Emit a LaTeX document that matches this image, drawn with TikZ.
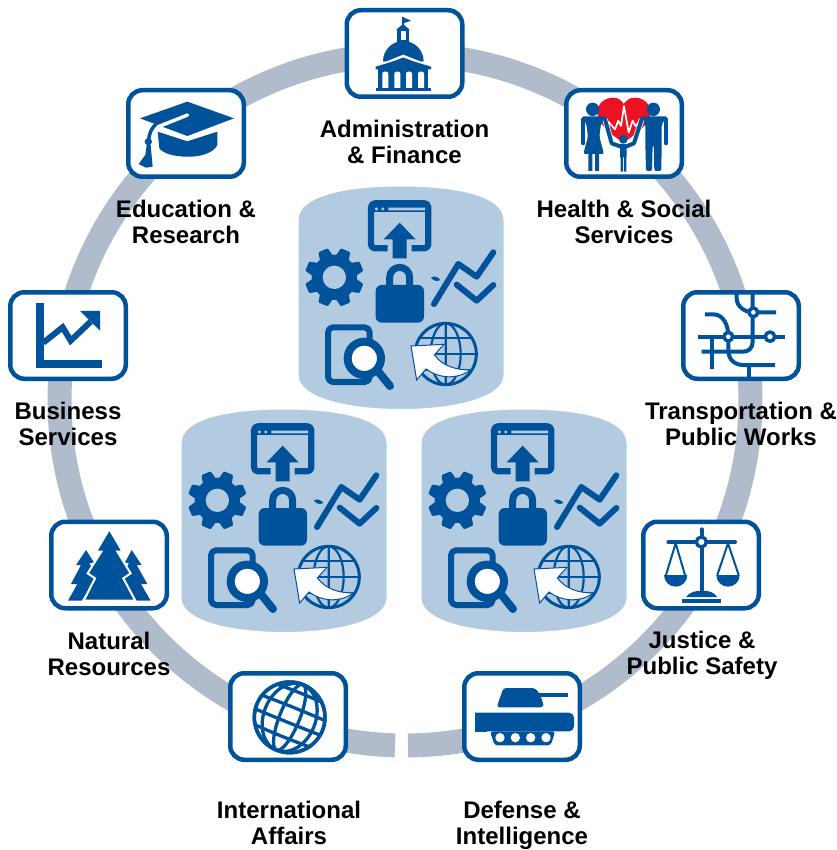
\documentclass[tikz,border=0pt]{standalone}
\usepackage{fontspec}
\setmainfont{Liberation Sans}
\definecolor{bl}{HTML}{00539B}
\definecolor{ringc}{HTML}{B0BCCB}
\definecolor{cyl}{HTML}{B3CBE1}
\definecolor{hrt}{HTML}{EE1122}
\tikzset{
 box/.style={draw=bl,line width=4.5pt,fill=white,rounded corners=14pt,minimum width=115.5pt,minimum height=86.5pt,inner sep=0pt},
 lab/.style={align=center,font=\fontsize{24}{26}\selectfont\bfseries,text=black,inner sep=0pt},
 st/.style={draw=bl,line width=#1,line join=round},
 fl/.style={fill=bl,draw=none},
 zs/.style 2 args={shift={(#1,#2)},xscale=0.33333,yscale=0.33333}
}
\newcommand{\cylbody}{%
 \path[fill=cyl,draw=white,line width=1pt] (401,186) .. controls (455,186) and (504,195) .. (504,220) -- (504,375)
   .. controls (504,398) and (455,409.5) .. (401,409.5) .. controls (347,409.5) and (298,398) .. (298,375) -- (298,220)
   .. controls (298,195) and (347,186) .. (401,186) -- cycle;}
\newcommand{\cylicons}{%
 \begin{scope}[zs={300}{190}]
  % window
  \draw[st=6.3pt,rounded corners=4pt] (263,175) -- (213,175) -- (213,40) -- (385,40) -- (385,175) -- (335,175);
  \fill[bl] (213,40) rectangle (385,66);
  \fill[cyl] (229,57) circle (5) (248,57) circle (5) (265,53) rectangle (375,61);
  \fill[bl] (299,98) -- (347,148) -- (320,148) -- (320,205) -- (278,205) -- (278,148) -- (251,148) -- cycle;
  % gear
  \fill[bl] (103,262) circle (68);
  \foreach \a in {22.5,67.5,...,337.5}{
   \fill[bl,rotate around={\a:(103,262)},rounded corners=1pt] (160,240) -- (191,247) -- (191,277) -- (160,284) -- cycle;}
  \fill[cyl] (103,262) circle (35);
  % lock
  \draw[st=7pt] (269,292) -- (269,262) arc[start angle=180,end angle=360,radius=30] -- (329,292);
  \fill[bl,rounded corners=6pt] (227,285) rectangle (372,398);
  % chart
  \draw[st=6pt,line cap=round] (402,342) -- (475,222) -- (530,260) -- (580,187);
  \draw[st=6pt,line cap=round] (470,284) -- (530,332) -- (580,285);
  \fill[bl] (393,262) .. controls (405,256) and (415,262) .. (421,270) .. controls (410,276) and (398,272) .. (393,262) -- cycle;
  % doc + magnifier
  \draw[st=6pt,rounded corners=5pt] (84,412) rectangle (209,576);
  \draw[bl,line width=8pt,line cap=round] (235,545) -- (270,588);
  \draw[draw=bl,line width=8pt,fill=white] (193,505) circle (50);
  % globe
  \draw[st=3pt,fill=cyl] (437,492) circle (92);
  \begin{scope}
   \clip (437,492) circle (92);
   \draw[st=2.2pt] (437,492) ellipse (45 and 92) (437,400) -- (437,584);
   \draw[st=2.2pt] (345,445) -- (530,445) (345,492) -- (530,492) (345,540) -- (530,540);
  \end{scope}
  \path[fill=white,draw=bl,line width=1pt] (333,468) -- (432,463) -- (403,495) .. controls (430,530) and (470,540) .. (512,540)
     .. controls (470,570) and (415,565) .. (378,537) -- (350,570) -- cycle;
 \end{scope}}
\begin{document}
\begin{tikzpicture}[x=1pt,y=1pt]
\path[use as bounding box] (0,0) rectangle (836,-850);
\begin{scope}[yscale=-1]
 % ring
 \draw[ringc,line width=24pt] ({405+345.5*cos(91.66)},{400+345.5*sin(91.66)}) arc[start angle=91.66,end angle=449.5,radius=345.5];
 % cylinders
 \begin{scope}[shift={(-117,223)}]\cylbody\end{scope}
 \begin{scope}[shift={(123,223)}]\cylbody\end{scope}
 \cylbody
 \begin{scope}[shift={(-117,223)}]\cylicons\end{scope}
 \begin{scope}[shift={(123,223)}]\cylicons\end{scope}
 \cylicons
 % boxes
 \node[box] (admin) at (404.5,53.5) {};
 \node[box] (health) at (624,133.5) {};
 \node[box] (trans) at (741,335.5) {};
 \node[box] (just) at (701,565) {};
 \node[box] (def) at (522,716.5) {};
 \node[box] (intl) at (288,716.5) {};
 \node[box] (nat) at (109,565) {};
 \node[box] (bus) at (68,335.5) {};
 \node[box] (edu) at (186,133.5) {};
 % labels
 \node[lab] (ladmin) at (404.5,141.5) {Administration\\\& Finance};
 \node[lab] (lhealth) at (624,221.5) {Health \& Social\\Services};
 \node[lab] (ltrans) at (741,423.5) {Transportation \&\\Public Works};
 \node[lab] (ljust) at (702,655.5) {Justice \&\\Public Safety};
 \node[lab] (ldef) at (522,825) {Defense \&\\Intelligence};
 \node[lab] (lintl) at (289,822.5) {International\\Affairs};
 \node[lab] (lnat) at (109,653.5) {Natural\\Resources};
 \node[lab] (lbus) at (68,423.5) {Business\\Services};
 \node[lab] (ledu) at (186,221.5) {Education \&\\Research};
 % admin icon
 \begin{scope}[zs={340}{0}]
  \fill[bl] (115,205) rectangle (265,265);
  \fill[white,rounded corners=2pt] (127,215) rectangle (145,270) (163,215) rectangle (181,270) (198,215) rectangle (216,270) (234,215) rectangle (252,270);
  \fill[bl] (108,263) rectangle (272,274);
  \fill[bl] (129,184) arc[start angle=180,end angle=360,radius=61] -- (190,190) -- cycle;
  \draw[white,line width=2.5pt] (115,198) -- (190,168) -- (265,198);
  \fill[bl] (107,200) -- (190,175) -- (273,200) -- (273,208) -- (107,208) -- cycle;
  \fill[bl] (170,88) -- (208,88) -- (208,125) -- (170,125) -- cycle;
  \fill[bl] (168,90) -- (189,72) -- (210,90) -- cycle;
  \fill[white] (182,92) rectangle (197,120);
  \fill[bl] (187,52) rectangle (192,75);
  \fill[bl] (190,52) -- (213,62) -- (190,70) -- cycle;
 \end{scope}
 % health icon
 \begin{scope}[zs={340}{0}]
  \fill[hrt] (850,428) .. controls (800,395) and (772,365) .. (772,338) .. controls (772,310) and (795,293) .. (820,293)
    .. controls (835,293) and (845,302) .. (851,312) .. controls (858,302) and (868,293) .. (885,293)
    .. controls (910,293) and (932,312) .. (932,338) .. controls (932,365) and (900,395) .. (850,428) -- cycle;
  \draw[white,line width=1.7pt,line join=round] (805,365) -- (825,388) -- (835,362) -- (843,378) -- (852,318) -- (866,398) -- (878,362) -- (886,378) -- (897,366);
  \fill[bl] (758,328) circle (20) (940,328) circle (20) (850,418) circle (13);
  \draw[white,line width=5.5pt,line join=round] (795,358) -- (815,430) -- (843,440) (905,358) -- (882,430) -- (857,440);
  \draw[st=4pt,line cap=round] (795,358) -- (815,430) -- (843,440) (905,358) -- (882,430) -- (857,440);
  \draw[st=4pt,line cap=round] (730,358) -- (730,430) (978,358) -- (978,430);
  \fill[bl,rounded corners=2pt] (725,349) -- (797,349) -- (783,372) -- (778,410) -- (792,462) -- (730,462) -- (744,410) -- (739,372) -- cycle;
  \fill[bl] (745,460) rectangle (757,513) (765,460) rectangle (777,513);
  \fill[bl,rounded corners=2pt] (905,349) -- (983,349) -- (965,372) -- (965,430) -- (964,513) -- (943,513) -- (941,435) -- (938,435) -- (936,513) -- (918,513) -- (916,430) -- (916,372) -- cycle;
  \fill[bl] (840,432) rectangle (860,472) (842,470) rectangle (849,515) (852,470) rectangle (859,515);
 \end{scope}
 % transport icon
 \begin{scope}[zs={630}{280}]
  \begin{scope}[bl,line width=4pt]
   \draw (320,38) -- (320,55) .. controls (320,80) and (345,97) .. (370,97) -- (438,97);
   \draw (368,38) -- (368,185) .. controls (368,205) and (355,215) .. (340,215) -- (215,215);
   \draw (225,103) -- (250,103) .. controls (280,103) and (295,135) .. (295,170) -- (295,210) .. controls (295,240) and (315,255) .. (340,255) -- (435,255);
   \draw (203,170) -- (465,170);
   \draw (247,170) -- (247,268);
   \draw (357,255) -- (357,295);
  \end{scope}
  \draw[st=3.5pt,fill=white] (295,170) circle (13) (370,97) circle (13) (420,170) circle (14);
 \end{scope}
 % justice icon
 \begin{scope}[zs={630}{280}]
  \draw[bl,line width=4pt,line cap=round] (115,787) -- (315,787);
  \draw[bl,line width=4pt,line cap=round] (215,748) -- (215,930);
  \draw[st=3.3pt,fill=white] (214,786) circle (15);
  \draw[st=2pt] (108,885) -- (137,790) -- (165,885) (262,885) -- (294,790) -- (326,885);
  \fill[bl] (102,885) arc[start angle=180,end angle=0,radius=35] -- cycle;
  \fill[bl] (259,885) arc[start angle=180,end angle=0,radius=35] -- cycle;
  \fill[bl] (168,951) .. controls (180,935) and (200,932) .. (215,932) .. controls (235,932) and (250,935) .. (262,951) -- cycle;
  \fill[bl] (155,957) rectangle (273,968);
 \end{scope}
 % tank icon
 \begin{scope}[zs={220}{660}]
  \fill[bl,rounded corners=3pt] (830,142) -- (850,84) -- (945,84) -- (958,100) -- (970,130) -- (970,142) -- cycle;
  \fill[bl] (955,100) rectangle (1045,110);
  \fill[bl,rounded corners=5pt] (765,158) -- (1062,158) -- (1062,214) -- (765,214);
  \fill[bl] (765,170) rectangle (800,215);
  \fill[bl,rounded corners=3pt] (810,214) -- (1006,214) -- (992,256) -- (824,256) -- cycle;
  \fill[white] (840,233) circle (14) (886,233) circle (14) (932,233) circle (14) (978,233) circle (14);
 \end{scope}
 % intl globe
 \begin{scope}[zs={220}{660}]
  \draw[st=3.5pt,fill=white] (209,172) circle (106);
  \begin{scope}[rotate around={22:(209,172)}]
   \clip (209,172) circle (106);
   \draw[st=3.3pt] (209,172) ellipse (30 and 106);
   \draw[st=3.3pt] (209,172) ellipse (78 and 106);
   \foreach \h in {-75,-30,15,58}{
    \draw[st=3.3pt] (95,{172+\h+0.0}) .. controls (150,{172+\h+0.08*\h}) and (270,{172+\h+0.08*\h}) .. (325,{172+\h});}
  \end{scope}
  \draw[st=3.5pt,fill=none] (209,172) circle (106);
 \end{scope}
 % natural icon
 \begin{scope}[zs={40}{510}]
  \fill[bl] (138,120) -- (162,157) -- (148,160) -- (172,200) -- (125,272) -- (84,272) -- (112,222) -- (93,222) -- (123,165) -- (108,165) -- cycle;
  \fill[bl] (275,120) -- (305,165) -- (290,165) -- (322,222) -- (303,222) -- (332,272) -- (290,272) -- (245,200) -- (267,160) -- (255,157) -- cycle;
  \path[fill=bl,draw=white,line width=2pt] (208,57) -- (248,125) -- (232,125) -- (272,190) -- (250,205) -- (286,272) -- (131,272) -- (165,205) -- (143,190) -- (184,125) -- (168,125) -- cycle;
 \end{scope}
 % business icon
 \begin{scope}[zs={0}{80}]
  \draw[bl,line width=7.5pt,miter limit=10] (120,670) -- (120,852) -- (305,852);
  \draw[bl,line width=6pt] (130,788) -- (188,742) -- (212,782) -- (272,725);
  \fill[bl] (240,693) -- (300,693) -- (300,752) -- cycle;
 \end{scope}
 % education icon
 \begin{scope}[zs={0}{80}]
  \fill[bl] (420,115) -- (562,65) -- (702,115) -- (562,168) -- cycle;
  \fill[bl] (473,155) -- (562,184) -- (652,155) -- (652,195) .. controls (640,222) and (590,232) .. (562,230) .. controls (520,230) and (490,220) .. (478,205) -- cycle;
  \draw[white,line width=3.5pt,line cap=round] (563,105) -- (470,142) .. controls (460,150) and (458,165) .. (458,185);
  \draw[bl,line width=3.5pt] (468,132) .. controls (455,145) and (446,160) .. (446,185);
  \fill[bl] (445,185) circle (11);
  \fill[bl] (440,195) -- (452,195) -- (458,260) -- (438,263) -- (416,252) -- (436,225) -- cycle;
 \end{scope}
\end{scope}
\end{tikzpicture}
\end{document}
